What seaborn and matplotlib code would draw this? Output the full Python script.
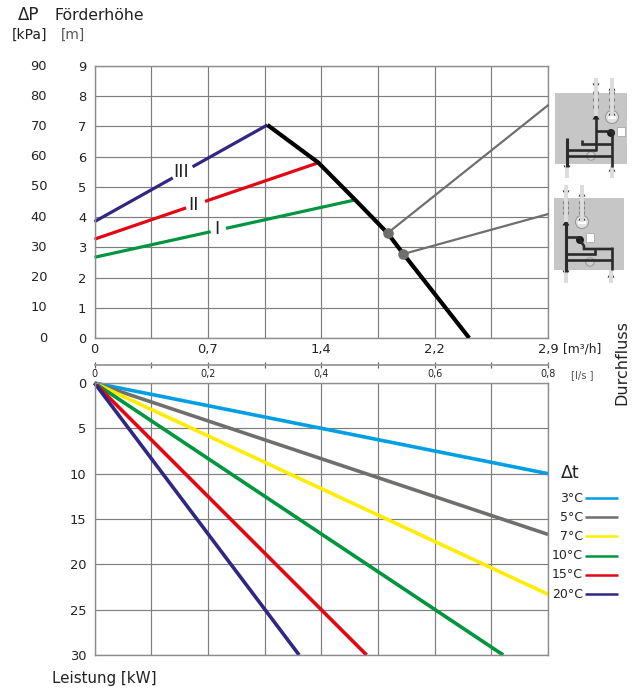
import numpy as np
import pandas as pd
import matplotlib
matplotlib.use("Agg")
import matplotlib.pyplot as plt
from matplotlib.patches import Rectangle, Circle, Polygon
import seaborn as sns

# Kennlinien oben, Durchfluss in l/s, Foerderhoehe in m
stufe_namen = ["III", "II", "I"]
stufe_farben = ["#312783", "#e30613", "#009640"]
stufe_q = [[0, 0.305], [0, 0.395], [0, 0.46]]
stufe_h = [[3.85, 7.05], [3.27, 5.8], [2.67, 4.57]]
stufe_label_q = [0.153, 0.174, 0.216]
stufe_label_h = [5.5, 4.4, 3.6]
# Luecke in der Linie rund um die Beschriftung
stufe_luecke = [(0.138, 0.173), (0.1616, 0.195), (0.205, 0.232)]

rest_q = [0.305, 0.395, 0.46, 0.517, 0.545, 0.661]
rest_h = [7.05, 5.8, 4.57, 3.47, 2.78, 0.0]

punkt_q = [0.517, 0.545]
punkt_h = [3.47, 2.78]
leitung_h = [7.7, 4.1]

# Leistung unten
dt_namen = ["3°C", "5°C", "7°C", "10°C", "15°C", "20°C"]
dt_farben = ["#009fe3", "#6f6f6e", "#ffed00", "#009640", "#e30613", "#312783"]
dt_q = [0.8, 0.8, 0.8, 0.721, 0.48, 0.361]
dt_kw = [10.0, 16.7, 23.3, 30.0, 30.0, 30.0]

q_grid = [0, 0.1, 0.2, 0.3, 0.4, 0.5, 0.6, 0.7, 0.8]
m3h_labels = ["0", "", "0,7", "", "1,4", "", "2,2", "", "2,9"]
ls_labels = ["0", "", "0,2", "", "0,4", "", "0,6", "", "0,8"]
kpa_labels = ["0", "10", "20", "30", "40", "50", "60", "70", "80", "90"]

sns.set_theme(style="white")
plt.rcParams["font.family"] = ["DejaVu Sans"]
W, H = 638, 692
GRID = "#7d7d7d"
TXT = "#222222"

fig = plt.figure(figsize=(W / 100, H / 100), dpi=100)


def px_axes(l, t, r, b):
    return fig.add_axes([l / W, 1 - b / H, (r - l) / W, (b - t) / H])


def style_grid(ax):
    ax.set_xlim(0, 0.8)
    ax.set_xticks(q_grid)
    ax.grid(True, color=GRID, lw=0.85)
    ax.set_axisbelow(True)
    ax.set_xlabel("")
    ax.set_ylabel("")
    for s in ax.spines.values():
        s.set_color("#8c8c8c")
        s.set_linewidth(1.0)


# oberes Diagramm
ax1 = px_axes(94.5, 66, 548, 338)
for name, c, q, h, lq, lh, (g0, g1) in zip(stufe_namen, stufe_farben, stufe_q, stufe_h,
                                           stufe_label_q, stufe_label_h, stufe_luecke):
    h0, h1 = np.interp([g0, g1], q, h)
    sns.lineplot(x=[q[0], g0], y=[h[0], h0], ax=ax1, color=c, lw=2.3, clip_on=False, solid_capstyle="butt")
    sns.lineplot(x=[g1, q[1]], y=[h1, h[1]], ax=ax1, color=c, lw=2.3, clip_on=False, solid_capstyle="butt")
    ax1.text(lq, lh, name, ha="center", va="center", fontsize=13, color=TXT, family="Liberation Sans Narrow",
             zorder=5)
sns.lineplot(x=rest_q, y=rest_h, ax=ax1, color="black", lw=3.0, zorder=6, solid_capstyle="butt")
for q, h, end in zip(punkt_q, punkt_h, leitung_h):
    ax1.plot([q, 0.8], [h, end], color="#6f6f6e", lw=1.6, zorder=7, clip_on=False)
ax1.scatter(punkt_q, punkt_h, s=58, color="#6f6f6e", zorder=8, linewidths=0)
ax1.set_ylim(0, 9)
ax1.set_yticks(range(10))
style_grid(ax1)
ax1.tick_params(axis="y", length=0, labelsize=9.4, pad=6, labelcolor=TXT)
ax1.tick_params(axis="x", length=0, labelsize=9.4, pad=3.5, labelcolor=TXT)
ax1.set_xticklabels(m3h_labels)
for i, lab in enumerate(kpa_labels):
    ax1.annotate(lab, (47, i), xycoords=("figure pixels", "data"), ha="right", va="center",
                 fontsize=9.4, color=TXT)

# unteres Diagramm
ax2 = px_axes(94.5, 383, 548, 655)
tab = pd.DataFrame({"dt": dt_namen, "q": dt_q, "kw": dt_kw})
for name, c, q, kw in zip(tab.dt, dt_farben, tab.q, tab.kw):
    sns.lineplot(x=[0, q], y=[0, kw], ax=ax2, color=c, lw=2.6, clip_on=False, solid_capstyle="butt")
ax2.set_ylim(30, 0)
ax2.set_yticks(range(0, 31, 5))
style_grid(ax2)
ax2.set_xticklabels([])
ax2.tick_params(axis="both", length=0, labelsize=9.4, labelcolor=TXT, pad=6)

# l/s Skala zwischen den Diagrammen
ax3 = px_axes(94.5, 363.5, 548, 364.5)
ax3.set_xlim(0, 0.8)
ax3.set_ylim(0, 1)
ax3.set_yticks([])
ax3.set_xticks(q_grid)
ax3.set_xticklabels(ls_labels)
for k in ["left", "right", "top"]:
    ax3.spines[k].set_visible(False)
ax3.spines["bottom"].set_color("#999999")
ax3.spines["bottom"].set_linewidth(1.3)
ax3.tick_params(axis="x", bottom=True, direction="inout", length=4.4, width=0.9, color="#666666",
                labelsize=6.9, labelcolor=TXT, pad=1)

# Overlay in Pixeln fuer Texte, Legende und Schemata
ov = fig.add_axes([0, 0, 1, 1], facecolor="none")
ov.set_xlim(0, W)
ov.set_ylim(H, 0)
ov.axis("off")


def t(x, y, s, size=9.2, ha="left", color=TXT, **kw):
    ov.text(x, y, s, fontsize=size, ha=ha, va="center", color=color, **kw)


t(18, 15, "ΔP", 12)
t(54, 15, "Förderhöhe", 11.3)
t(12, 35, "[kPa]", 10)
t(61, 35, "[m]", 9.8, color="#555555")
t(563, 349, "[m³/h]", 8.8)
t(571, 375, "[l/s ]", 7.2, color="#555555")
t(622, 363, "Durchfluss", 11.5, ha="center", rotation=90)
t(52, 679, "Leistung [kW]", 10.9)
t(561, 473, "Δt", 12.5)

for i, (name, c) in enumerate(zip(dt_namen, dt_farben)):
    y = 498 + i * 19.2
    t(583, y, name, 9, ha="right")
    ov.plot([585, 618], [y, y], color=c, lw=1.8, solid_capstyle="butt")

DUNKEL = "#2b2b2b"


def rohr(xs, ys, lw=1.9):
    ov.plot(xs, ys, color=DUNKEL, lw=lw, solid_capstyle="butt", solid_joinstyle="miter")


def pfeil(x, y, d):
    ov.add_patch(Polygon([(x - 3.5, y - 2.5 * d), (x + 3.5, y - 2.5 * d), (x, y + 3 * d)], color="#1c1c1c", lw=0))


def schlauch(x, y0, y1, kreise):
    ov.plot([x, x], [y0, y1], color="#dcdcdc", lw=2.8, solid_capstyle="butt")
    for yy in kreise:
        ov.add_patch(Circle((x, yy), 2.3, facecolor="white", edgecolor="#6a6a6a", lw=0.8))


def ventil(x, y):
    ov.add_patch(Circle((x, y), 6.5, facecolor="#e2e2e2", edgecolor="#999999", lw=0.8))
    ov.add_patch(Rectangle((x - 4, y - 1.5), 8, 3, facecolor="white", edgecolor="none"))
    pfeil(x, y - 4, -1)


def pumpe(x, y):
    ov.add_patch(Circle((x, y), 4.2, facecolor="#d2d2d2", edgecolor="#9a9a9a", lw=0.8))


# Schema oben
ov.add_patch(Rectangle((555, 93), 72, 71, facecolor="#c6c6c6", edgecolor="none"))
schlauch(596, 78, 116, [93, 100, 107])
schlauch(612, 78, 116, [93, 100, 107])
schlauch(567, 165, 178, [])
schlauch(612, 165, 178, [])
rohr([596, 596], [117, 151])
rohr([567, 567], [138, 167], 2.2)
rohr([612, 612], [130, 167])
rohr([567, 596], [150, 150])
rohr([567, 612], [156, 156])
rohr([582, 582, 612], [140, 144, 144])
rohr([596, 612], [131, 131])
ventil(612, 117)
pumpe(591, 156)
ov.add_patch(Circle((611, 133), 4, facecolor="#1c1c1c", edgecolor="none"))
ov.add_patch(Rectangle((617, 127), 8, 9, facecolor="white", edgecolor="#aaaaaa", lw=0.6))
pfeil(596, 86, 1)
pfeil(612, 88, -1)
pfeil(596, 117, -1)
pfeil(567, 168, 1)
pfeil(612, 169, -1)

# Schema unten
ov.add_patch(Rectangle((554, 198), 70, 72, facecolor="#c6c6c6", edgecolor="none"))
schlauch(566, 185, 222, [203, 208, 213])
schlauch(582, 185, 222, [203, 208, 213])
schlauch(566, 270, 283, [])
schlauch(611, 270, 283, [])
rohr([566, 566], [222, 272], 2.2)
rohr([566, 580], [237, 237])
rohr([580, 584, 584, 612], [240, 246, 249, 249])
rohr([612, 612], [247, 270])
rohr([566, 595, 595], [254, 254, 248])
rohr([566, 612], [260, 260])
ventil(582, 222)
pumpe(590, 262)
ov.add_patch(Circle((580, 240), 4, facecolor="#1c1c1c", edgecolor="none"))
ov.add_patch(Rectangle((586, 233), 8, 9, facecolor="white", edgecolor="#aaaaaa", lw=0.6))
pfeil(566, 193, 1)
pfeil(582, 194, -1)
pfeil(566, 223, -1)
pfeil(566, 273, 1)
pfeil(611, 275, -1)

fig.savefig("out.png", dpi=100, facecolor="white")
